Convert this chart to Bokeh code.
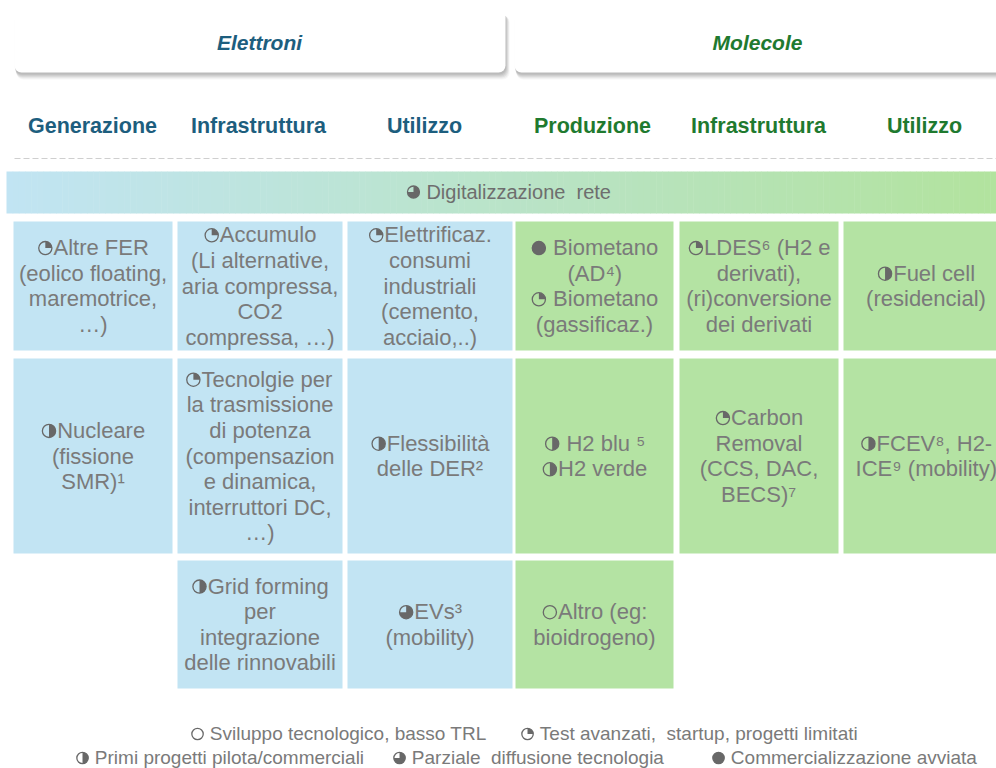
import math
import numpy as np
from bokeh.plotting import figure
from bokeh.models import Range1d, BoxAnnotation, ColumnDataSource, LabelSet
from bokeh.core.properties import value
from bokeh.embed import file_html
from bokeh.resources import INLINE

# ---------------- data ----------------
groups = ["Elettroni", "Molecole"]
columns = ["Generazione", "Infrastruttura", "Utilizzo",
           "Produzione", "Infrastruttura", "Utilizzo"]
column_group = [0, 0, 0, 1, 1, 1]

band_text = "\u25D5 Digitalizzazione\u00a0 rete"

cell_col = [0, 1, 2, 3, 4, 5,
            0, 1, 2, 3, 4, 5,
            1, 2, 3]
cell_row = [0, 0, 0, 0, 0, 0,
            1, 1, 1, 1, 1, 1,
            2, 2, 2]
cell_text = [
    "\u25D4Altre FER\n(eolico floating,\nmaremotrice,\n\u2026)",
    "\u25D4Accumulo\n(Li alternative,\naria compressa,\nCO2\ncompressa, \u2026)",
    "\u25D4Elettrificaz.\nconsumi\nindustriali\n(cemento,\nacciaio,..)",
    "\u25CF Biometano\n(AD\u2074)\n\u25D4 Biometano\n(gassificaz.)",
    "\u25D4LDES\u2076 (H2 e\nderivati),\n(ri)conversione\ndei derivati",
    "\u25D1Fuel cell\n(residencial)",
    "\u25D1Nucleare\n(fissione\nSMR)\u00B9",
    "\u25D4Tecnolgie per\nla trasmissione\ndi potenza\n(compensazion\ne dinamica,\ninterruttori DC,\n\u2026)",
    "\u25D1Flessibilit\u00E0\ndelle DER\u00B2",
    "\u25D1 H2 blu \u2075\n\u25D1H2 verde",
    "\u25D4Carbon\nRemoval\n(CCS, DAC,\nBECS)\u2077",
    "\u25D1FCEV\u2078, H2-\nICE\u2079 (mobility)",
    "\u25D1Grid forming\nper\nintegrazione\ndelle rinnovabili",
    "\u25D5EVs\u00B3\n(mobility)",
    "\u25CBAltro (eg:\nbioidrogeno)",
]

legend_symbols = ["\u25CB", "\u25D4", "\u25D1", "\u25D5", "\u25CF"]
legend_labels = ["Sviluppo tecnologico, basso TRL",
                 "Test avanzati,\u00a0 startup, progetti limitati",
                 "Primi progetti pilota/commerciali",
                 "Parziale\u00a0 diffusione tecnologia",
                 "Commercializzazione avviata"]

# ---------------- layout / style ----------------
FONT = "Liberation Sans"
GREY = "#7a7a7a"
SYM_COLOR = "#686868"
group_color = ["#1d5e7e", "#1f7a2f"]
cell_fill = ["#c2e4f3", "#b4e3a3"]
col_left = [13, 177, 347, 515, 679, 843]
col_right = [172, 342, 512, 673, 838, 1008]
col_center = [92, 258, 424, 592, 758, 924]
row_top = [221, 358, 560]
row_bottom = [350, 553, 688]
group_box = [(14, 505), (514, 1010)]
group_center = [259, 757]
legend_pos = [(190, 733), (520, 733), (75, 757), (392, 757), (711, 757)]
CELL_SIZE = 22
LINE_STEP = 25.6

# Arial / Liberation Sans advance widths (1/1000 em) for layout of the symbols
AW = {" ": 278, "\u00a0": 278, "!": 278, "(": 333, ")": 333, ",": 278, "-": 333,
      ".": 278, "/": 278, ":": 278, "\u2026": 1000, "\u00e0": 556,
      "\u00b9": 333, "\u00b2": 333, "\u00b3": 333}
for ch in "0123456789":
    AW[ch] = 556
for ch in "\u2074\u2075\u2076\u2077\u2078\u2079":
    AW[ch] = 400
AW.update(dict(zip("ABCDEFGHIJKLMNOPQRSTUVWXYZ",
                   [667, 667, 722, 722, 667, 611, 778, 722, 278, 500, 667, 556, 833,
                    722, 778, 667, 778, 722, 667, 611, 722, 667, 944, 667, 667, 611])))
AW.update(dict(zip("abcdefghijklmnopqrstuvwxyz",
                   [556, 556, 500, 556, 556, 278, 556, 556, 222, 222, 500, 222, 833,
                    556, 556, 556, 556, 333, 500, 278, 556, 500, 722, 500, 500, 500])))
SYM = {"\u25CB": "empty", "\u25D4": "q1", "\u25D1": "half", "\u25D5": "q3", "\u25CF": "full"}
SYM_ADV = 0.74
SYM_R = 0.30


def layout_line(line, x, y, size, align="center"):
    segs, syms = [], []
    off, cur, cur_start = 0.0, "", 0.0
    for ch in line:
        if ch in SYM:
            if cur:
                segs.append((cur, cur_start))
                cur = ""
            syms.append((SYM[ch], off + SYM_ADV * size / 2))
            off += SYM_ADV * size
        else:
            if not cur:
                cur_start = off
            cur += ch
            off += AW.get(ch, 556) / 1000 * size
    if cur:
        segs.append((cur, cur_start))
    left = x - off / 2 if align == "center" else x
    out_t = []
    for s, o in segs:
        stripped = s.lstrip(" ")
        o += (len(s) - len(stripped)) * AW[" "] / 1000 * size
        if stripped.strip():
            out_t.append((stripped.rstrip(" "), left + o, y))
    out_s = [(k, left + o, y, SYM_R * size) for k, o in syms]
    return out_t, out_s


p = figure(width=996, height=768, x_range=Range1d(0, 996), y_range=Range1d(768, 0),
           output_backend="svg", toolbar_location=None, min_border=0,
           x_axis_location=None, y_axis_location=None)
p.grid.visible = False
p.outline_line_color = None
p.background_fill_color = "white"

# header boxes with soft shadow
for (l, r) in group_box:
    for i, a in zip([6, 5, 4, 3, 2, 1], [0.03, 0.04, 0.05, 0.05, 0.06, 0.06]):
        p.add_layout(BoxAnnotation(left=l + i * 0.3, right=r + i * 0.7, top=12 + i * 0.5,
                                   bottom=73 + i * 1.0, fill_color="black", fill_alpha=a,
                                   line_color=None, border_radius=7))
    p.add_layout(BoxAnnotation(left=l, right=r, top=10, bottom=72, fill_color="white",
                               fill_alpha=1, line_color=None, border_radius=7))

gsrc = ColumnDataSource(dict(x=group_center, y=[42, 42], t=groups, c=group_color))
p.add_layout(LabelSet(x="x", y="y", text="t", text_color="c", source=gsrc,
                      text_align="center", text_baseline="middle",
                      text_font=value(FONT), text_font_size="21px",
                      text_font_style="bold italic"))

# column headers
hsrc = ColumnDataSource(dict(x=col_center, y=[125] * 6, t=columns,
                             c=[group_color[g] for g in column_group]))
p.text(x="x", y="y", text="t", text_color="c", source=hsrc, text_align="center",
       text_baseline="middle", text_font=value(FONT), text_font_size="21.5px",
       text_font_style="bold")

# dashed separator
p.line(x=[14, 996], y=[158, 158], line_color="#cfcfcf", line_width=1.2, line_dash="6 3")

# gradient band
n = 160
edges = np.linspace(6, 996, n + 1)
c0 = np.array([193, 228, 243])
c1 = np.array([178, 227, 158])
fr = np.linspace(0, 1, n)
cols = ["#%02x%02x%02x" % tuple(np.round(c0 + (c1 - c0) * f).astype(int)) for f in fr]
p.quad(left=edges[:-1], right=edges[1:] + 0.5, top=171, bottom=213, fill_color=cols,
       line_color=None)

# cells
csrc = ColumnDataSource(dict(
    l=[col_left[c] for c in cell_col], r=[col_right[c] for c in cell_col],
    t=[row_top[r] for r in cell_row], b=[row_bottom[r] for r in cell_row],
    f=[cell_fill[column_group[c]] for c in cell_col]))
p.quad(left="l", right="r", top="t", bottom="b", fill_color="f", line_color=None, source=csrc)

texts = {"x": [], "y": [], "t": [], "size": [], "color": []}
symbols = []


def add(items_t, items_s, size, color):
    for s, x, y in items_t:
        texts["x"].append(x)
        texts["y"].append(y)
        texts["t"].append(s)
        texts["size"].append("%gpx" % size)
        texts["color"].append(color)
    symbols.extend(items_s)


# band label
add(*layout_line(band_text, 508, 191, 20), 20, "#6e6e6e")

# cell texts
for c, r, s in zip(cell_col, cell_row, cell_text):
    lines = s.split("\n")
    cx = (col_left[c] + col_right[c]) / 2
    cy = (row_top[r] + row_bottom[r]) / 2
    for i, line in enumerate(lines):
        y = cy + (i - (len(lines) - 1) / 2) * LINE_STEP
        add(*layout_line(line, cx, y, CELL_SIZE), CELL_SIZE, GREY)

# legend
for (x, y), sym, lab in zip(legend_pos, legend_symbols, legend_labels):
    add(*layout_line(sym + " " + lab, x, y, 19, align="left"), 19, GREY)

tsrc = ColumnDataSource(texts)
p.text(x="x", y="y", text="t", source=tsrc, text_color="color", text_align="left",
       text_baseline="middle", text_font=value(FONT), text_font_size="size")

# maturity symbols (drawn pies)
ang = {"q1": (0, math.pi / 2), "half": (-math.pi / 2, math.pi / 2),
       "q3": (math.pi, 2.5 * math.pi), "full": (0, 2 * math.pi)}
wx, wy, wr, ws, we = [], [], [], [], []
for k, x, y, rad in symbols:
    if k in ang:
        wx.append(x); wy.append(y + 0.5); wr.append(rad)
        ws.append(ang[k][0]); we.append(ang[k][1])
p.wedge(x=wx, y=wy, radius=wr, start_angle=ws, end_angle=we, direction="anticlock",
        fill_color=SYM_COLOR, line_color=None)
p.circle(x=[s[1] for s in symbols], y=[s[2] + 0.5 for s in symbols],
         radius=[s[3] for s in symbols], fill_color=None, line_color=SYM_COLOR,
         line_width=1.3)

open("out.html", "w").write(file_html(p, INLINE))
